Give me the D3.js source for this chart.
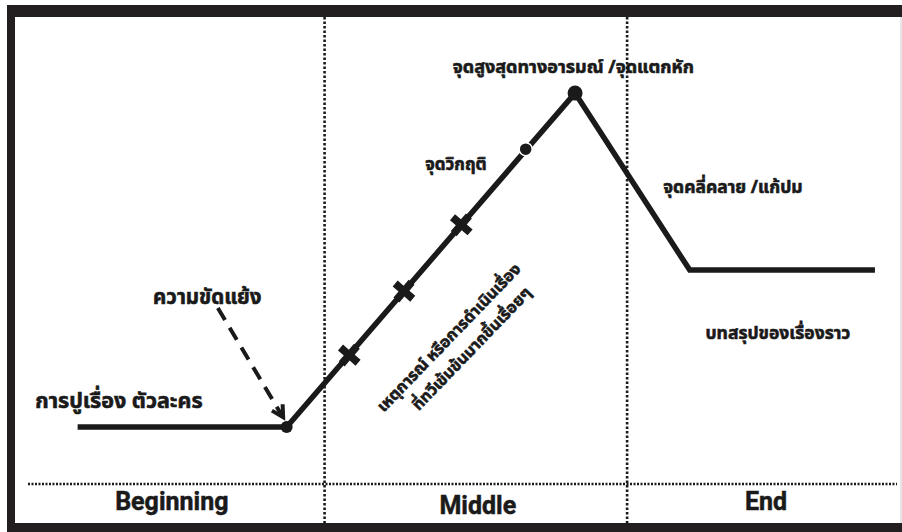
<!DOCTYPE html>
<html>
<head>
<meta charset="utf-8">
<script src="https://cdn.jsdelivr.net/npm/d3@7.9.0/dist/d3.min.js"></script>
<style>
  body { margin: 0; background: #fff; }
  svg { display: block; }
  .thai { font-family: "Noto Sans Thai", "Loma", "Garuda", "Noto Sans", sans-serif; font-weight: bold; fill: #1a1a1a; stroke: #1a1a1a; stroke-width: 0.6px; }
  .stage { font-family: "Roboto", "Liberation Sans", sans-serif; font-weight: bold; fill: #1a1a1a; stroke: #1a1a1a; stroke-width: 0.5px; }
</style>
</head>
<body>
<div id="chart"></div>
<script>
// story arc: progress (0-100) vs tension (0-100)
const arcProgress = [7.1, 30.8, 63.5, 76.5, 97.5];
const arcTension = [12.2, 12.2, 83.7, 45.8, 45.8];

// filled dots at the turning points
const dotProgress = [30.8, 63.5];
const dotTension = [12.2, 83.7];

// rising-action events (crosses) and the crisis point
const eventProgress = [37.9, 44.1, 50.6];
const eventTension = [27.6, 41.3, 55.5];
const crisisProgress = [57.9];
const crisisTension = [71.7];

// where the three acts split
const actBounds = [0, 35.1, 69.4, 100];
const actNames = ['Beginning', 'Middle', 'End'];

const annotations = [
  'จุดสูงสุดทางอารมณ์ /จุดแตกหัก',
  'จุดวิกฤติ',
  'จุดคลี่คลาย /แก้ปม',
  'ความขัดแย้ง',
  'การปูเรื่อง ตัวละคร',
  'บทสรุปของเรื่องราว',
];
const risingText = ['เหตุการณ์ หรือการดำเนินเรื่อง', 'ที่ทวีเข้มข้นมากขึ้นเรื่อยๆ'];

const width = 902;
const height = 532;
const ink = '#1a1a1a';

const svg = d3.select('#chart')
  .append('svg')
  .attr('width', width)
  .attr('height', height);

const x = d3.scaleLinear().domain([0, 100]).range([15, 897]);
const y = d3.scaleLinear().domain([0, 100]).range([484, 17]);

// frame
svg.append('rect').attr('x', 7).attr('y', 5).attr('width', width - 7).attr('height', 12).attr('fill', '#231f20');
svg.append('rect').attr('x', 7).attr('y', 5).attr('width', 8).attr('height', height - 5).attr('fill', '#231f20');
svg.append('rect').attr('x', 7).attr('y', 523).attr('width', width - 7).attr('height', 9).attr('fill', '#231f20');
svg.append('line').attr('x1', 901).attr('x2', 901).attr('y1', 17).attr('y2', 523)
  .attr('stroke', '#ccc').attr('stroke-width', 1);

// act dividers
svg.append('g')
  .selectAll('line')
  .data(actBounds.slice(1, -1))
  .join('line')
  .attr('x1', d => x(d)).attr('x2', d => x(d))
  .attr('y1', 17).attr('y2', 523)
  .attr('stroke', ink).attr('stroke-width', 2.6)
  .attr('stroke-dasharray', '2.5,2');

svg.append('line')
  .attr('x1', 28).attr('x2', 897)
  .attr('y1', y(0)).attr('y2', y(0))
  .attr('stroke', ink).attr('stroke-width', 2.4)
  .attr('stroke-dasharray', '2,1.5');

svg.append('g')
  .selectAll('text')
  .data(actNames)
  .join('text')
  .attr('class', 'stage')
  .attr('x', (d, i) => x((actBounds[i] + actBounds[i + 1]) / 2) + (i === 2 ? 4 : 2))
  .attr('y', (d, i) => i === 1 ? 505 : 501)
  .attr('text-anchor', 'middle')
  .attr('dominant-baseline', 'central')
  .attr('font-size', 25)
  .text(d => d);

// the arc
const arc = d3.zip(arcProgress, arcTension);
svg.append('path')
  .datum(arc)
  .attr('d', d3.line().x(d => x(d[0])).y(d => y(d[1])))
  .attr('fill', 'none')
  .attr('stroke', ink)
  .attr('stroke-width', 5.5)
  .attr('stroke-linejoin', 'miter');

svg.append('g')
  .selectAll('circle')
  .data(d3.zip(dotProgress, dotTension))
  .join('circle')
  .attr('cx', d => x(d[0]))
  .attr('cy', d => y(d[1]))
  .attr('r', (d, i) => i === 0 ? 6 : 7.5)
  .attr('fill', ink);

svg.append('g')
  .selectAll('circle')
  .data(d3.zip(crisisProgress, crisisTension))
  .join('circle')
  .attr('cx', d => x(d[0]))
  .attr('cy', d => y(d[1]))
  .attr('r', 6.5)
  .attr('fill', ink)
  .attr('stroke', '#fff')
  .attr('stroke-width', 1.5);

const riseAngle = Math.atan2(y(arcTension[2]) - y(arcTension[1]), x(arcProgress[2]) - x(arcProgress[1])) * 180 / Math.PI;
svg.append('g')
  .selectAll('path')
  .data(d3.zip(eventProgress, eventTension))
  .join('path')
  .attr('d', d3.symbol(d3.symbolCross, 300))
  .attr('transform', d => `translate(${x(d[0])},${y(d[1])}) rotate(${riseAngle})`)
  .attr('fill', ink);

// dashed arrow into the conflict point
const arrowFrom = [23.0, 37.7];
const arrowTo = [30.4, 14.3];
const ax1 = x(arrowFrom[0]), ay1 = y(arrowFrom[1]);
const ax2 = x(arrowTo[0]), ay2 = y(arrowTo[1]);
svg.append('line')
  .attr('x1', ax1).attr('y1', ay1)
  .attr('x2', ax2 - 2).attr('y2', ay2 - 3)
  .attr('stroke', ink).attr('stroke-width', 4)
  .attr('stroke-dasharray', '14,9');
const ang = Math.atan2(ay2 - ay1, ax2 - ax1);
const head = 13;
svg.append('path')
  .attr('d', `M${ax2 + head * Math.cos(ang + Math.PI - 0.5)},${ay2 + head * Math.sin(ang + Math.PI - 0.5)}
    L${ax2},${ay2}
    L${ax2 + head * Math.cos(ang + Math.PI + 0.5)},${ay2 + head * Math.sin(ang + Math.PI + 0.5)}`)
  .attr('fill', 'none').attr('stroke', ink).attr('stroke-width', 4);

// annotations: progress, tension, anchor, font size
const annPos = [
  [63.3, 89.1, 'middle', 18],
  [50.0, 68.3, 'middle', 17],
  [73.5, 63.4, 'start', 17.5],
  [21.8, 40.0, 'middle', 20.5],
  [2.3, 17.6, 'start', 21.5],
  [86.5, 32.3, 'middle', 17.5],
];
svg.append('g')
  .selectAll('text')
  .data(annotations)
  .join('text')
  .attr('class', 'thai')
  .attr('x', (d, i) => x(annPos[i][0]))
  .attr('y', (d, i) => y(annPos[i][1]))
  .attr('text-anchor', (d, i) => annPos[i][2])
  .attr('dominant-baseline', 'central')
  .attr('font-size', (d, i) => annPos[i][3])
  .text(d => d);

const rise = svg.append('g')
  .attr('transform', `translate(${x(50.2)},${y(29.5)}) rotate(-46)`);
rise.selectAll('text')
  .data(risingText)
  .join('text')
  .attr('class', 'thai')
  .attr('x', (d, i) => i === 0 ? 0 : 8)
  .attr('y', (d, i) => i * 24 - 12)
  .attr('text-anchor', 'middle')
  .attr('dominant-baseline', 'central')
  .attr('font-size', 16)
  .text(d => d);
</script>
</body>
</html>
